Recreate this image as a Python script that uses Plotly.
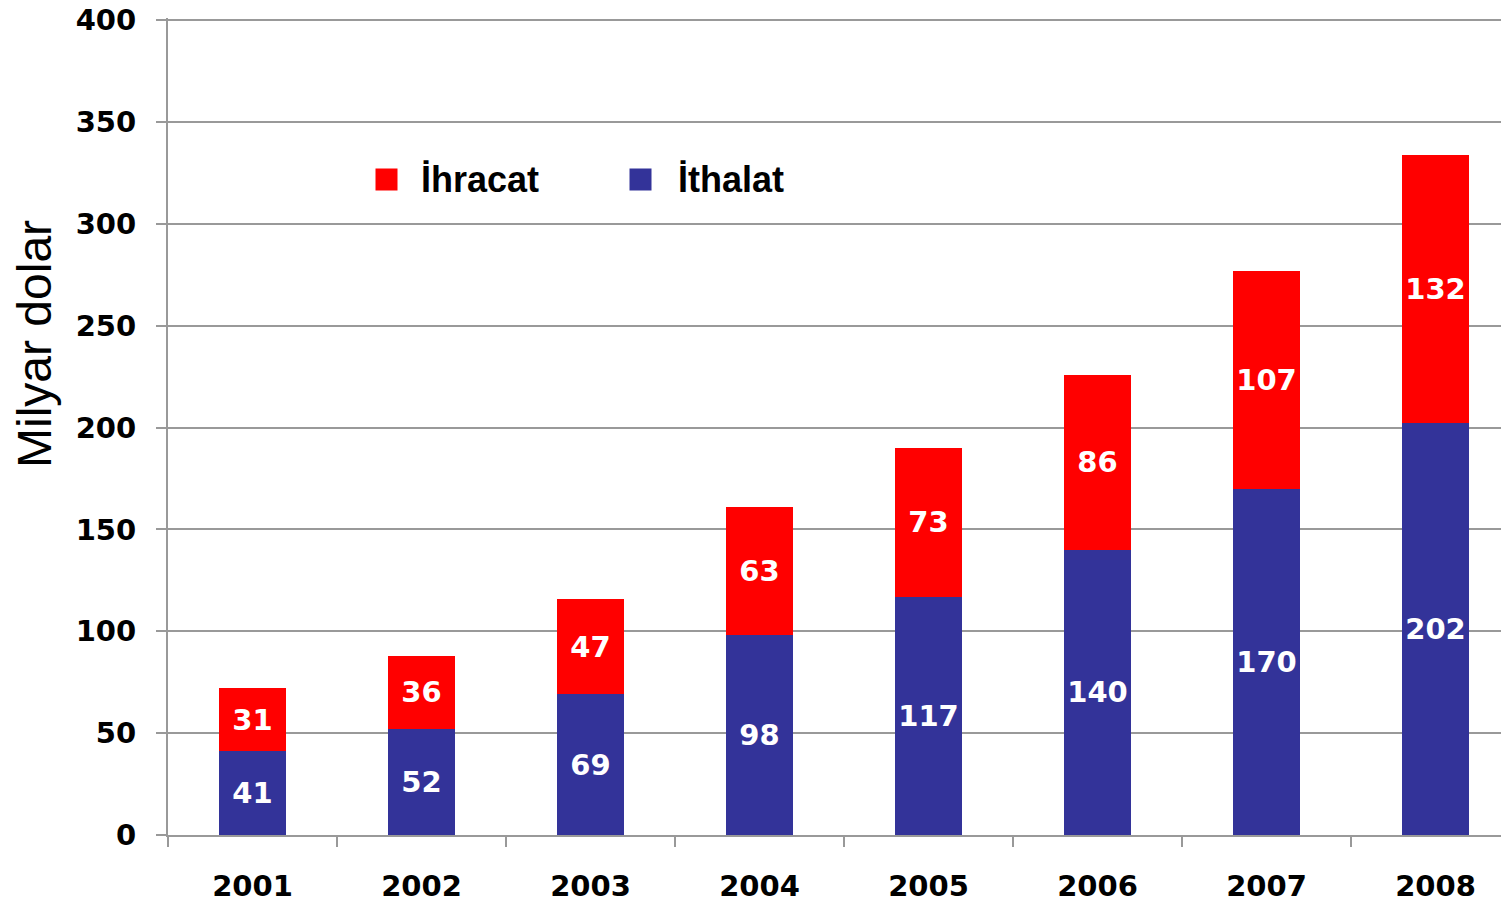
import plotly.graph_objects as go

YEARS = ["2001", "2002", "2003", "2004", "2005", "2006", "2007", "2008"]
ITHALAT = [41, 52, 69, 98, 117, 140, 170, 202]
IHRACAT = [31, 36, 47, 63, 73, 86, 107, 132]

BLUE = "#333399"
RED = "#ff0000"
GRID = "#999999"

LABEL_FONT = dict(family="DejaVu Sans", size=29, color="white", weight="bold")

fig = go.Figure()
fig.add_trace(go.Bar(
    x=YEARS, y=ITHALAT, name="İthalat", marker=dict(color=BLUE, line=dict(width=0)),
    text=ITHALAT, textposition="inside", insidetextanchor="middle", textangle=0,
    constraintext="none", textfont=LABEL_FONT, showlegend=False,
))
fig.add_trace(go.Bar(
    x=YEARS, y=IHRACAT, name="İhracat", marker=dict(color=RED, line=dict(width=0)),
    text=IHRACAT, textposition="inside", insidetextanchor="middle", textangle=0,
    constraintext="none", textfont=LABEL_FONT, showlegend=False,
))

# legend drawn as annotations (bigger swatches than plotly's legend allows)
legend_items = [("İhracat", RED, 0.1626, 0.1872), ("İthalat", BLUE, 0.352, 0.3788)]
for label, col, xs, xt in legend_items:
    fig.add_annotation(xref="paper", yref="paper", x=xs, y=0.8025, text=" ",
                       width=21, height=21, bgcolor=col, showarrow=False,
                       borderpad=0, xanchor="center", yanchor="middle")
    fig.add_annotation(xref="paper", yref="paper", x=xt, y=0.8025, text=label,
                       showarrow=False, xanchor="left", yanchor="middle",
                       font=dict(family="Liberation Sans", size=36, color="black", weight="bold"))

fig.add_annotation(xref="paper", yref="paper", x=-0.0992, y=0.601, text="Milyar dolar",
                   textangle=-90, showarrow=False, xanchor="center", yanchor="middle",
                   font=dict(family="Liberation Sans", size=48, color="black"))

# page body has an 8px default margin, so the figure is sized to fit inside it
fig.update_layout(
    width=1501, height=892,
    barmode="stack", bargap=0.6,
    paper_bgcolor="white", plot_bgcolor="white",
    margin=dict(l=160, r=0, t=10, b=65),
    font=dict(family="DejaVu Sans", color="black", size=29),
    showlegend=False,
    xaxis=dict(
        range=[-0.5, 7.435], automargin=False,
        showline=True, linecolor=GRID, linewidth=2,
        ticks="outside", tickson="boundaries", ticklen=10, tickwidth=2, tickcolor=GRID,
        tickfont=dict(family="DejaVu Sans", size=29, weight="bold"),
        ticklabelstandoff=24, ticklabeloverflow="allow",
        showgrid=False,
    ),
    yaxis=dict(
        range=[0, 401], tickvals=[0, 50, 100, 150, 200, 250, 300, 350, 400],
        automargin=False,
        showline=True, linecolor=GRID, linewidth=2,
        gridcolor=GRID, gridwidth=2,
        ticks="outside", ticklen=10, tickwidth=2, tickcolor=GRID,
        tickfont=dict(family="DejaVu Sans", size=29, weight="bold"),
        ticklabelstandoff=14, ticklabeloverflow="allow",
        zeroline=False,
    ),
)

fig.write_html("out.html")
